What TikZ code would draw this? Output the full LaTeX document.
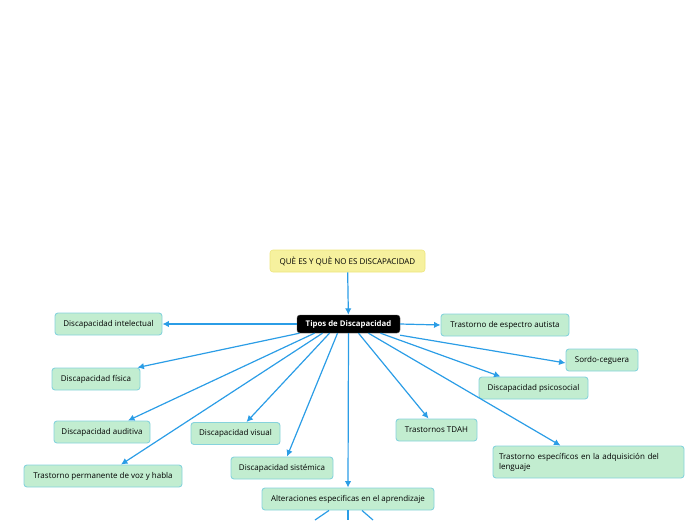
\documentclass[tikz,border=0pt]{standalone}
\usepackage{fontspec}
\setmainfont{Open Sans}
\usetikzlibrary{arrows.meta}
\definecolor{boxfill}{HTML}{C2EDD0}
\definecolor{boxline}{HTML}{86D3DC}
\definecolor{yfill}{HTML}{F6F19E}
\definecolor{yline}{HTML}{EDE57E}
\definecolor{arr}{HTML}{2B9DE6}
\begin{document}
\begin{tikzpicture}[x=1pt,y=-1pt,
  gbox/.style={draw=boxline,fill=boxfill,line width=0.9pt,rounded corners=3pt,
    minimum height=22pt,inner xsep=5pt,font=\fontsize{8}{10}\selectfont,text=black},
  ybox/.style={draw=yline,fill=yfill,line width=0.6pt,rounded corners=3pt,
    minimum height=22pt,font=\fontsize{8}{10}\selectfont},
  cbox/.style={draw=black!70,fill=black,rounded corners=3pt,minimum height=18pt,
    font=\bfseries\fontsize{7.8}{9}\selectfont,text=white},
  link/.style={draw=arr,line width=1.2pt,-{Latex[length=6.5pt,width=6.5pt]}},
  plain/.style={draw=arr,line width=1.2pt}]
\useasboundingbox (0,0) rectangle (696,520);
\node[ybox,minimum width=155pt] (que) at (347.5,261) {QUÈ ES Y QUÈ NO ES DISCAPACIDAD};
\node[cbox,minimum width=103pt] (tipos) at (348.5,324) {Tipos de Discapacidad};
\node[gbox,minimum width=107pt] (intel) at (108.5,324) {Discapacidad intelectual};
\node[gbox,minimum width=88pt] (fis) at (96,379) {Discapacidad física};
\node[gbox,minimum width=96pt] (aud) at (102,432) {Discapacidad auditiva};
\node[gbox,minimum width=158pt] (voz) at (103,476) {Trastorno permanente de voz y habla};
\node[gbox,minimum width=89pt] (vis) at (235.5,433.5) {Discapacidad visual};
\node[gbox,minimum width=102pt] (sis) at (282,468) {Discapacidad sistémica};
\node[gbox,minimum width=172pt] (alt) at (348,499) {Alteraciones especificas en el aprendizaje};
\node[gbox,minimum width=81pt] (tdah) at (436.5,430) {Trastornos TDAH};
\node[gbox,text width=179pt,inner xsep=6pt,align=left,minimum height=32pt] (len) at (588.5,462) {Trastorno específicos en la adquisición del\\lenguaje};
\node[gbox,minimum width=109pt] (psi) at (533.5,388) {Discapacidad psicosocial};
\node[gbox,minimum width=72pt] (sor) at (602,360) {Sordo-ceguera};
\node[gbox,minimum width=128pt] (aut) at (505,325) {Trastorno de espectro autista};
\coordinate (d1) at (315,520);
\coordinate (d2) at (348,520);
\coordinate (d3) at (373,520);
\draw[link] (que) -- (tipos);
\draw[link] (tipos.west) -- (intel.east);
\draw[link] ([xshift=-49pt]tipos.south) -- ([xshift=-3pt]fis.north east);
\draw[link] ([xshift=-34pt]tipos.south) -- ([xshift=26pt]aud.north);
\draw[link] ([xshift=-26pt]tipos.south) -- ([xshift=18pt]voz.north);
\draw[link] ([xshift=-19pt]tipos.south) -- ([xshift=11pt]vis.north);
\draw[link] ([xshift=-11pt]tipos.south) -- ([xshift=5pt]sis.north);
\draw[link] (tipos.south) -- (alt.north);
\draw[link] ([xshift=10pt]tipos.south) -- ([xshift=-8pt]tdah.north);
\draw[link] ([xshift=20pt]tipos.south) -- ([xshift=-28pt]len.north);
\draw[link] ([xshift=32pt]tipos.south) -- ([xshift=-33pt]psi.north);
\draw[link] ([yshift=-2pt]tipos.south east) -- ([yshift=-3pt]sor.west);
\draw[link] (tipos.east) -- (aut.west);
\draw[plain] ([xshift=-19pt]alt.south) -- (d1);
\draw[plain] (alt.south) -- (d2);
\draw[plain] ([xshift=14pt]alt.south) -- (d3);
\end{tikzpicture}
\end{document}
